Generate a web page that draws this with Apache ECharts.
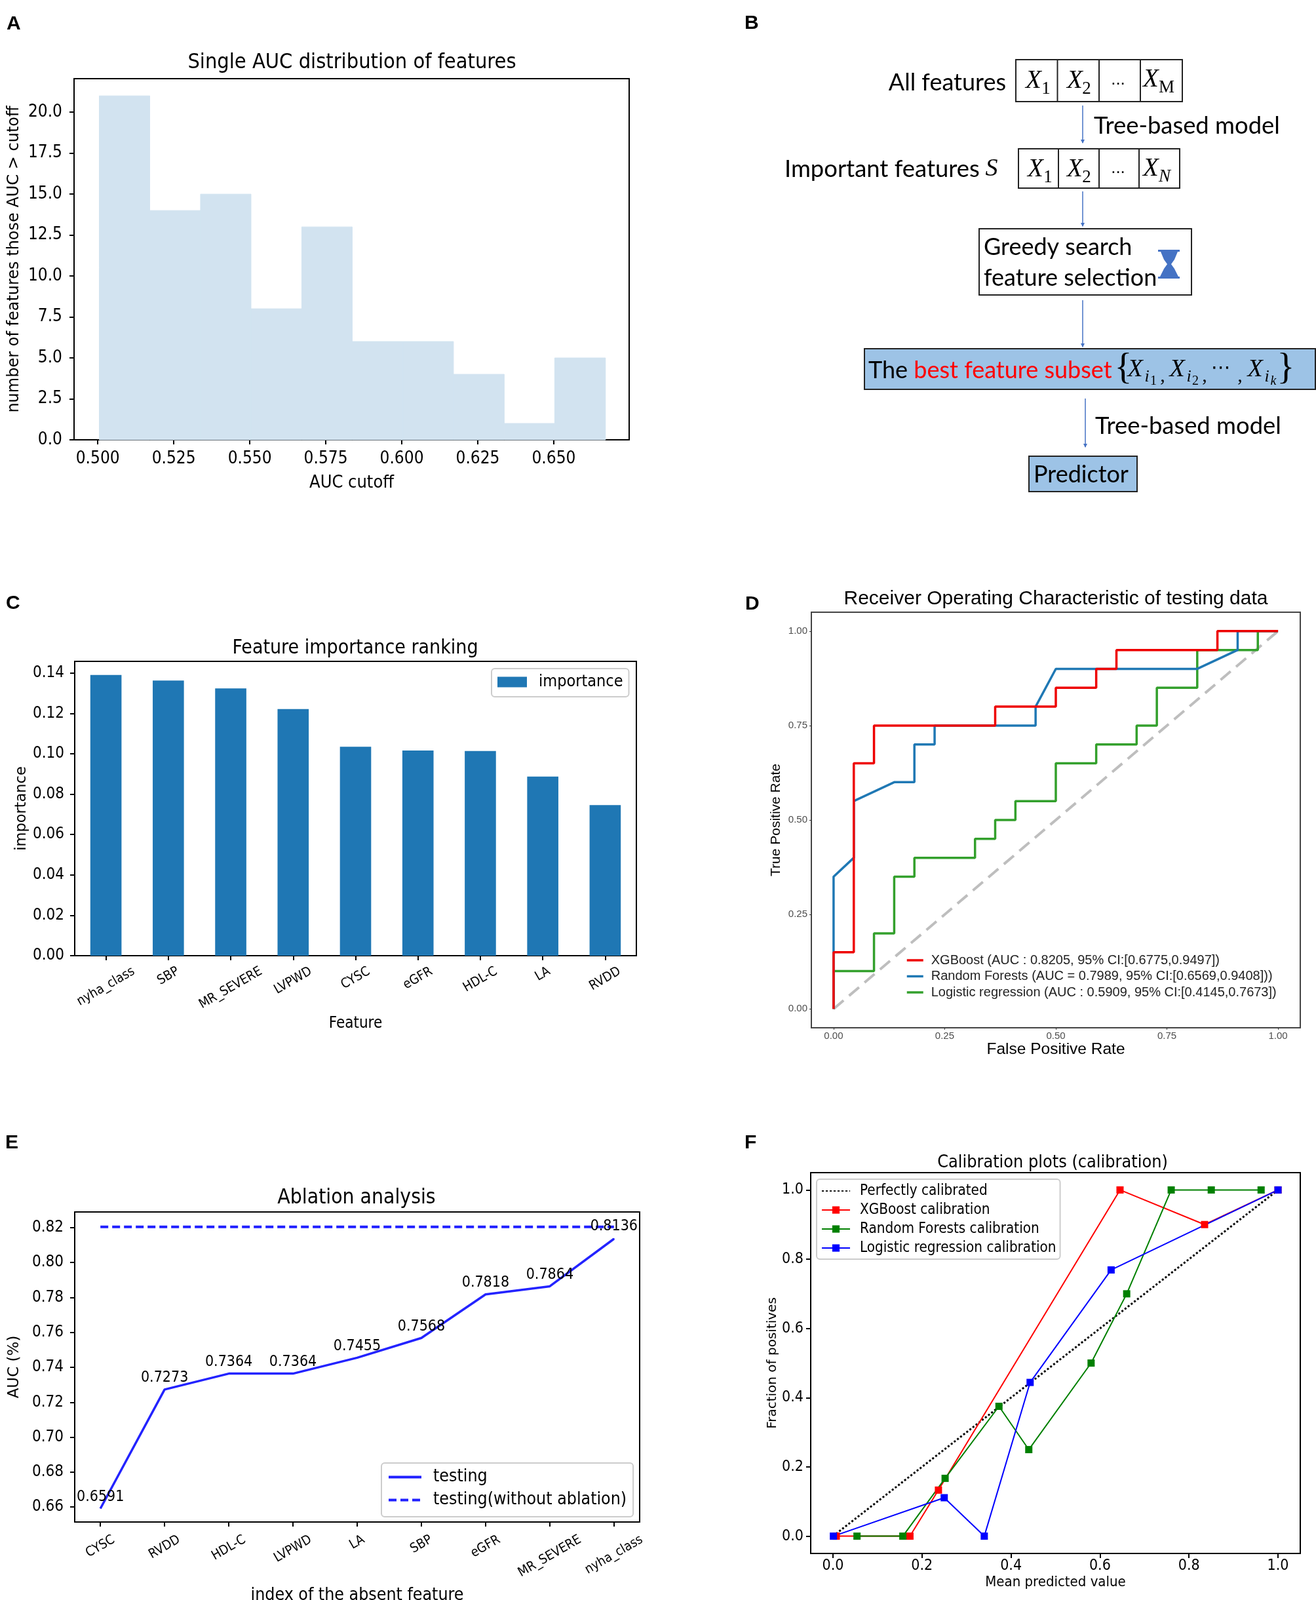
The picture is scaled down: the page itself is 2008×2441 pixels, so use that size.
<!DOCTYPE html>
<html>
<head>
<meta charset="utf-8">
<title>Figure</title>
<script src="https://cdn.jsdelivr.net/npm/echarts@6/dist/echarts.min.js"></script>
<style>
html, body { margin: 0; padding: 0; background: #fff; }
#main { width: 2008px; height: 2441px; }
</style>
</head>
<body>
<div id="main"></div>
<script>
// A - histogram
const histEdges = [0.5005, 0.5171, 0.5338, 0.5504, 0.5671, 0.5837, 0.6004, 0.617, 0.6337, 0.6503, 0.667]
const histCounts = [21, 14, 15, 8, 13, 6, 6, 4, 1, 5]
const histXTicks = [0.5, 0.525, 0.55, 0.575, 0.6, 0.625, 0.65]
const histYTicks = [0, 2.5, 5, 7.5, 10, 12.5, 15, 17.5, 20]

// C - importance bars
const impNames = ['nyha_class', 'SBP', 'MR_SEVERE', 'LVPWD', 'CYSC', 'eGFR', 'HDL-C', 'LA', 'RVDD']
const impValues = [0.1391, 0.1363, 0.1324, 0.1222, 0.1035, 0.1016, 0.1014, 0.0887, 0.0746]
const impYTicks = [0, 0.02, 0.04, 0.06, 0.08, 0.1, 0.12, 0.14]

// D - ROC curves
const rocTicks = [0, 0.25, 0.5, 0.75, 1]
const diagX = [0, 1]
const diagY = [0, 1]
const xgbFpr = [0, 0, 0.0455, 0.0455, 0.0909, 0.0909, 0.3636, 0.3636, 0.5, 0.5, 0.5909, 0.5909, 0.6364, 0.6364, 0.8636, 0.8636, 1]
const xgbTpr = [0, 0.15, 0.15, 0.65, 0.65, 0.75, 0.75, 0.8, 0.8, 0.85, 0.85, 0.9, 0.9, 0.95, 0.95, 1, 1]
const rfFpr = [0, 0, 0.0455, 0.0455, 0.1364, 0.1818, 0.1818, 0.2273, 0.2273, 0.4545, 0.4545, 0.5, 0.8182, 0.9091, 0.9091, 1]
const rfTpr = [0, 0.35, 0.4, 0.55, 0.6, 0.6, 0.7, 0.7, 0.75, 0.75, 0.8, 0.9, 0.9, 0.95, 1, 1]
const lrFpr = [0, 0, 0.0909, 0.0909, 0.1364, 0.1364, 0.1818, 0.1818, 0.3182, 0.3182, 0.3636, 0.3636, 0.4091, 0.4091, 0.5, 0.5, 0.5909, 0.5909, 0.6818, 0.6818, 0.7273, 0.7273, 0.8182, 0.8182, 0.9545, 0.9545, 1]
const lrTpr = [0, 0.1, 0.1, 0.2, 0.2, 0.35, 0.35, 0.4, 0.4, 0.45, 0.45, 0.5, 0.5, 0.55, 0.55, 0.65, 0.65, 0.7, 0.7, 0.75, 0.75, 0.85, 0.85, 0.95, 0.95, 1, 1]
const rocNames = [
  'XGBoost (AUC : 0.8205, 95% CI:[0.6775,0.9497])',
  'Random Forests (AUC = 0.7989, 95% CI:[0.6569,0.9408]))',
  'Logistic regression (AUC : 0.5909, 95% CI:[0.4145,0.7673])'
]

// E - ablation
const ablNames = ['CYSC', 'RVDD', 'HDL-C', 'LVPWD', 'LA', 'SBP', 'eGFR', 'MR_SEVERE', 'nyha_class']
const ablIndex = [0, 1, 2, 3, 4, 5, 6, 7, 8]
const ablValues = [0.6591, 0.7273, 0.7364, 0.7364, 0.7455, 0.7568, 0.7818, 0.7864, 0.8136]
const ablBaseline = [0.8205, 0.8205, 0.8205, 0.8205, 0.8205, 0.8205, 0.8205, 0.8205, 0.8205]
const ablYTicks = [0.66, 0.68, 0.7, 0.72, 0.74, 0.76, 0.78, 0.8, 0.82]

// F - calibration
const calTicks = [0, 0.2, 0.4, 0.6, 0.8, 1]
const calXgbX = [0.0074, 0.173, 0.237, 0.645, 0.835, 1]
const calXgbY = [0, 0, 0.133, 1, 0.9, 1]
const calRfX = [0.054, 0.157, 0.252, 0.373, 0.44, 0.58, 0.66, 0.76, 0.85, 0.962]
const calRfY = [0, 0, 0.167, 0.375, 0.25, 0.5, 0.7, 1, 1, 1]
const calLrX = [0.001, 0.25, 0.34, 0.443, 0.625, 1]
const calLrY = [0, 0.111, 0, 0.444, 0.769, 1]

const cond = '"DejaVu Sans Condensed", "DejaVu Sans", sans-serif'
const wide = '"DejaVu Sans", sans-serif'
const arial = '"Liberation Sans", Arial, sans-serif'
const serif = '"Liberation Serif", serif'
const calibri = 'Lato, "Noto Sans", sans-serif'

function zip(a, b) {
  return a.map((v, i) => [v, b[i]])
}

// tilted labels hang from a common top edge, like matplotlib rotation=30 ha=center
const measureCtx = document.createElement('canvas').getContext('2d')
function tiltRich(names, size, labelTop, margin) {
  const rich = {}
  measureCtx.font = size + 'px "DejaVu Sans Condensed"'
  names.forEach((n, i) => {
    const w = measureCtx.measureText(n).width
    const half = (w * 0.5 + size * 0.866) / 2
    const d = labelTop + half - margin
    rich['l' + i] = {
      fontFamily: cond, fontSize: size, color: '#000',
      padding: [Math.max(d * 1.732, 0), Math.max(d, 0), 0, 0]
    }
  })
  return rich
}

const blackLine = { show: true, onZero: false, lineStyle: { color: '#000', width: 2 } }
const grayLine = { show: true, onZero: false, lineStyle: { color: '#444', width: 2 } }

function valueAxis(gridIndex, min, max, ticks, fmt, size, name, nameGap, margin, extra) {
  return Object.assign({
    type: 'value',
    gridIndex: gridIndex,
    min: min,
    max: max,
    name: name,
    nameLocation: 'middle',
    nameGap: nameGap,
    splitLine: { show: false },
    axisLine: blackLine,
    axisTick: { show: true, customValues: ticks, length: 7, lineStyle: { color: '#000', width: 2 } },
    axisLabel: {
      customValues: ticks,
      formatter: v => v.toFixed(fmt),
      fontFamily: cond,
      fontSize: size,
      color: '#000',
      margin: margin
    }
  }, extra || {})
}

function nameStyle(family, size) {
  return { fontFamily: family, fontSize: size, color: '#000' }
}

const grids = [
  { left: 113, top: 120, width: 847, height: 551 },
  { left: 114, top: 1009, width: 857, height: 449 },
  { left: 1238, top: 934, width: 746, height: 634 },
  { left: 114, top: 1849, width: 862, height: 473 },
  { left: 1237, top: 1789, width: 747, height: 581 }
].map(g => Object.assign({ show: true, outerBoundsMode: 'none', borderColor: '#000', borderWidth: 2, backgroundColor: 'transparent' }, g))
grids[2].borderColor = '#444'

const tiltSize = 20
const cRich = tiltRich(impNames, tiltSize, 14, 10)
const eRich = tiltRich(ablNames, tiltSize, 17, 10)

const xAxes = [
  valueAxis(0, 0.4922, 0.6748, histXTicks, 3, 26, 'AUC cutoff', 52, 16, { nameTextStyle: nameStyle(cond, 27) }),
  {
    type: 'category',
    gridIndex: 1,
    data: impNames,
    name: 'Feature',
    nameLocation: 'middle',
    nameGap: 92,
    nameTextStyle: nameStyle(cond, 24),
    axisLine: blackLine,
    axisTick: { show: true, alignWithLabel: true, length: 7, lineStyle: { color: '#000', width: 2 } },
    axisLabel: {
      interval: 0, rotate: 30, align: 'center', verticalAlign: 'middle', margin: 10,
      formatter: (v, i) => '{l' + i + '|' + v + '}',
      rich: cRich
    }
  },
  valueAxis(2, -0.05, 1.05, rocTicks, 2, 15, 'False Positive Rate', 20, 6, {
    nameTextStyle: nameStyle(arial, 24.5),
    axisLine: grayLine,
    axisTick: { show: true, customValues: rocTicks, length: 3, lineStyle: { color: '#333', width: 1 } },
    axisLabel: { customValues: rocTicks, formatter: v => v.toFixed(2), fontFamily: arial, fontSize: 15, color: '#4d4d4d', margin: 5 }
  }),
  valueAxis(3, -0.4, 8.4, ablIndex, 0, 21, 'index of the absent feature', 99, 10, {
    nameTextStyle: nameStyle(cond, 26.5),
    axisLabel: {
      customValues: ablIndex, rotate: 30, align: 'center', verticalAlign: 'middle', margin: 10,
      formatter: v => '{l' + v + '|' + ablNames[v] + '}',
      rich: eRich
    }
  }),
  valueAxis(4, -0.05, 1.05, calTicks, 1, 23, 'Mean predicted value', 33, 8, { nameTextStyle: nameStyle(cond, 22) })
]

const yAxes = [
  valueAxis(0, 0, 22.05, histYTicks, 1, 26, 'number of features those AUC > cutoff', 79, 18, { nameTextStyle: nameStyle(wide, 24) }),
  valueAxis(1, 0, 0.1458, impYTicks, 2, 24, 'importance', 69, 16, { nameTextStyle: nameStyle(wide, 22.5) }),
  valueAxis(2, -0.05, 1.05, rocTicks, 2, 15, 'True Positive Rate', 43, 6, {
    nameTextStyle: nameStyle(arial, 21),
    axisLine: grayLine,
    axisTick: { show: true, customValues: rocTicks, length: 3, lineStyle: { color: '#333', width: 1 } },
    axisLabel: { customValues: rocTicks, formatter: v => v.toFixed(2), fontFamily: arial, fontSize: 15, color: '#4d4d4d', margin: 6 }
  }),
  valueAxis(3, 0.6514, 0.829, ablYTicks, 2, 24, 'AUC (%)', 80, 17, { nameTextStyle: nameStyle(wide, 23) }),
  valueAxis(4, -0.05, 1.05, calTicks, 1, 23, 'Fraction of positives', 48, 11, { nameTextStyle: nameStyle(wide, 20) })
]

function plainLine(name, xi, data, color, width, extra) {
  return Object.assign({
    name: name,
    type: 'line',
    xAxisIndex: xi,
    yAxisIndex: xi,
    data: data,
    showSymbol: false,
    symbol: 'none',
    animation: false,
    lineStyle: { color: color, width: width },
    itemStyle: { color: color }
  }, extra || {})
}

function calLine(name, data, color) {
  return plainLine(name, 4, data, color, 2, {
    symbol: 'rect',
    symbolSize: 11,
    showSymbol: true
  })
}

const series = [
  {
    name: 'hist',
    type: 'custom',
    xAxisIndex: 0,
    yAxisIndex: 0,
    data: histCounts.map((c, i) => [histEdges[i], histEdges[i + 1], c]),
    encode: { x: [0, 1], y: 2 },
    animation: false,
    renderItem: function (params, api) {
      const a = api.coord([api.value(0), 0])
      const b = api.coord([api.value(1), api.value(2)])
      return {
        type: 'rect',
        shape: { x: a[0], y: b[1], width: b[0] - a[0], height: a[1] - b[1] },
        style: { fill: '#d2e3f0', stroke: '#d2e3f0', lineWidth: 1 }
      }
    }
  },
  {
    name: 'importance',
    type: 'bar',
    xAxisIndex: 1,
    yAxisIndex: 1,
    data: impValues,
    barWidth: '50%',
    animation: false,
    itemStyle: { color: '#1f77b4' }
  },
  plainLine('diag', 2, zip(diagX, diagY), '#bebebe', 4, { lineStyle: { color: '#bebebe', width: 4, type: [20, 11] } }),
  plainLine(rocNames[2], 2, zip(lrFpr, lrTpr), '#33a02c', 3.5),
  plainLine(rocNames[1], 2, zip(rfFpr, rfTpr), '#1f78b4', 3.5),
  plainLine(rocNames[0], 2, zip(xgbFpr, xgbTpr), '#ee0000', 3.5),
  plainLine('testing', 3, zip(ablIndex, ablValues), '#2020ff', 3.5, {
    showSymbol: true,
    symbol: 'circle',
    symbolSize: 0,
    label: {
      show: true,
      position: 'top',
      distance: 6,
      formatter: p => p.value[1].toFixed(4),
      fontFamily: cond,
      fontSize: 23,
      color: '#000'
    },
    z: 3
  }),
  plainLine('testing(without ablation)', 3, zip(ablIndex, ablBaseline), '#2020ff', 4, {
    lineStyle: { color: '#2020ff', width: 4, type: [12, 6] },
    z: 1
  }),
  plainLine('Perfectly calibrated', 4, zip(diagX, diagY), '#000', 3, { lineStyle: { color: '#000', width: 3, type: [3, 3] } }),
  calLine('XGBoost calibration', zip(calXgbX, calXgbY), '#ff0000'),
  calLine('Random Forests calibration', zip(calRfX, calRfY), '#008000'),
  calLine('Logistic regression calibration', zip(calLrX, calLrY), '#0000ff')
]

// line only entries in a legend: echarts still puts a dot on them, hide it
function lineOnly(name) {
  return { name: name, itemStyle: { opacity: 0 } }
}

const legendBox = { orient: 'vertical', borderColor: '#ccc', borderWidth: 2, borderRadius: 5, backgroundColor: '#fff', selectedMode: false }
const legends = [
  Object.assign({}, legendBox, {
    data: [{ name: 'importance', icon: 'rect' }], left: 750, top: 1020, padding: [8, 9, 10, 9], itemWidth: 45, itemHeight: 16, itemGap: 0,
    textStyle: Object.assign(nameStyle(cond, 25), { padding: [0, 0, 0, 13] })
  }),
  {
    data: rocNames.map(lineOnly), orient: 'vertical', left: 1382, top: 1455, itemWidth: 25, itemHeight: 14, itemGap: 4.5, padding: 0, selectedMode: false,
    lineStyle: { width: 3.5 },
    textStyle: { fontFamily: arial, fontSize: 20, color: '#222', padding: [0, 0, 0, 7] }
  },
  Object.assign({}, legendBox, {
    data: ['testing', 'testing(without ablation)'].map(lineOnly), left: 582, top: 2232, padding: [8, 10, 12, 9], itemWidth: 50, itemHeight: 14, itemGap: 8,
    lineStyle: { width: 4 },
    textStyle: Object.assign(nameStyle(cond, 26.5), { padding: [0, 0, 0, 13] })
  }),
  Object.assign({}, legendBox, {
    data: [lineOnly('Perfectly calibrated'), 'XGBoost calibration', 'Random Forests calibration', 'Logistic regression calibration'],
    left: 1246, top: 1799, padding: [7, 6, 6, 7], itemWidth: 43, itemHeight: 14, itemGap: 7,
    textStyle: Object.assign(nameStyle(cond, 22.3), { padding: [0, 0, 0, 10] })
  })
]

function title(text, x, y, family, size) {
  return {
    text: text, left: x, top: y, textAlign: 'center', textVerticalAlign: 'middle', padding: 0,
    textStyle: { fontFamily: family, fontSize: size, fontWeight: 'normal', color: '#000' }
  }
}

const titles = [
  title('Single AUC distribution of features', 537, 96, cond, 32.3),
  title('Feature importance ranking', 542, 989, cond, 30),
  title('Receiver Operating Characteristic of testing data', 1611, 914, arial, 30),
  title('Ablation analysis', 544, 1828, cond, 31.6),
  title('Calibration plots (calibration)', 1606, 1774, cond, 26.8)
]

// graphic helpers for panel letters and the flow chart (B)
function txt(text, x, y, size, opts) {
  const o = opts || {}
  return {
    type: 'text', x: x, y: y, z: 10,
    style: {
      text: text, fontSize: size, fontFamily: o.family || calibri, fontStyle: o.style || 'normal',
      fontWeight: o.weight || 'normal', fill: o.fill || '#000',
      align: o.align || 'left', verticalAlign: 'middle'
    }
  }
}
function box(x0, y0, x1, y1, fill) {
  return {
    type: 'rect', z: 5, shape: { x: x0, y: y0, width: x1 - x0, height: y1 - y0 },
    style: { fill: fill || '#fff', stroke: '#222', lineWidth: 2 }
  }
}
function vline(x, y0, y1, color, width) {
  return { type: 'line', z: 6, shape: { x1: x, y1: y0, x2: x, y2: y1 }, style: { stroke: color || '#222', lineWidth: width || 2 } }
}
function arrow(x, y0, y1) {
  return [
    vline(x, y0, y1, '#4472c4', 1.5),
    { type: 'polygon', z: 6, shape: { points: [[x - 3, y1 - 5], [x + 3, y1 - 5], [x, y1 + 1]] }, style: { fill: '#4472c4' } }
  ]
}
function mathX(x, y, subX, sub, subItalic) {
  return [
    txt('X', x, y, 39, { family: serif, style: 'italic', align: 'center' }),
    txt(sub, subX, y + 12, 27, { family: serif, style: subItalic ? 'italic' : 'normal', align: 'center' })
  ]
}
function mathXi(x, y, sub) {
  return [
    txt('X', x, y - 1, 38, { family: serif, style: 'italic', align: 'center' }),
    txt('i', x + 18, y + 10, 26, { family: serif, style: 'italic', align: 'center' }),
    txt(sub, x + 28, y + 17, 20, { family: serif, style: sub === 'k' ? 'italic' : 'normal', align: 'center' })
  ]
}

const letterOpts = { family: arial, weight: 'bold' }
const graphics = [
  txt('A', 10, 37, 30, letterOpts),
  txt('B', 1136, 36, 30, letterOpts),
  txt('C', 9, 921, 30, letterOpts),
  txt('D', 1137, 922, 30, letterOpts),
  txt('E', 8, 1744, 30, letterOpts),
  txt('F', 1136, 1744, 30, letterOpts),

  txt('All features', 1535, 126, 36, { align: 'right' }),
  box(1550, 91, 1804, 155),
  vline(1613.5, 91, 155), vline(1677, 91, 155), vline(1740, 91, 155),
  ...mathX(1577, 124, 1596, '1'), ...mathX(1640, 124, 1658, '2'),
  txt('...', 1706, 122, 26, { align: 'center', family: arial }),
  ...mathX(1756, 122, 1780, 'M'),

  ...arrow(1652, 161, 218),
  txt('Tree-based model', 1669, 192, 36.4),

  txt('Important features', 1197, 258, 36.4),
  txt('S', 1513, 258, 38, { family: serif, style: 'italic', align: 'center' }),
  box(1554, 227, 1800, 287),
  vline(1615, 227, 287), vline(1677, 227, 287), vline(1738, 227, 287),
  ...mathX(1580, 259, 1599, '1'), ...mathX(1640, 259, 1658, '2'),
  txt('...', 1706, 257, 26, { align: 'center', family: arial }),
  ...mathX(1756, 258, 1777, 'N', true),

  ...arrow(1652, 292, 345),
  box(1494, 349, 1818, 450),
  txt('Greedy search', 1501, 377, 36),
  txt('feature selection', 1501, 424, 36),
  { type: 'rect', z: 6, shape: { x: 1767, y: 381, width: 33, height: 3 }, style: { fill: '#4472c4' } },
  { type: 'rect', z: 6, shape: { x: 1767, y: 422, width: 33, height: 3 }, style: { fill: '#4472c4' } },
  { type: 'polygon', z: 6, shape: { points: [[1771, 384], [1797, 384], [1792, 396], [1787, 403], [1792, 410], [1798, 422], [1770, 422], [1776, 410], [1781, 403], [1776, 396]] }, style: { fill: '#4472c4' } },

  ...arrow(1652, 458, 529),
  box(1319, 532, 2007, 594, '#9dc3e6'),
  {
    type: 'text', x: 1325, y: 565, z: 10,
    style: {
      text: '{k|The }{r|best feature subset}', verticalAlign: 'middle', align: 'left',
      rich: {
        k: { fontFamily: calibri, fontSize: 36, fill: '#000' },
        r: { fontFamily: calibri, fontSize: 36, fill: '#ff0000' }
      }
    }
  },
  txt('{', 1714, 563, 56, { family: serif, align: 'center' }),
  ...mathXi(1732, 565, '1'),
  txt(',', 1774, 574, 30, { family: serif, align: 'center' }),
  ...mathXi(1796, 565, '2'),
  txt(',', 1838, 574, 30, { family: serif, align: 'center' }),
  txt('⋯', 1863, 562, 30, { family: '"DejaVu Sans"', align: 'center' }),
  txt(',', 1892, 574, 30, { family: serif, align: 'center' }),
  ...mathXi(1915, 565, 'k'),
  txt('}', 1962, 563, 56, { family: serif, align: 'center' }),

  ...arrow(1656, 608, 682),
  txt('Tree-based model', 1671, 650, 36.4),
  box(1570, 696, 1735, 750, '#9dc3e6'),
  txt('Predictor', 1577, 724, 36)
]

const myChart = echarts.init(document.getElementById('main'), null, { renderer: 'canvas' })
myChart.setOption({
  animation: false,
  backgroundColor: '#fff',
  title: titles,
  grid: grids,
  xAxis: xAxes,
  yAxis: yAxes,
  legend: legends,
  series: series,
  graphic: { elements: graphics }
})
</script>
</body>
</html>
